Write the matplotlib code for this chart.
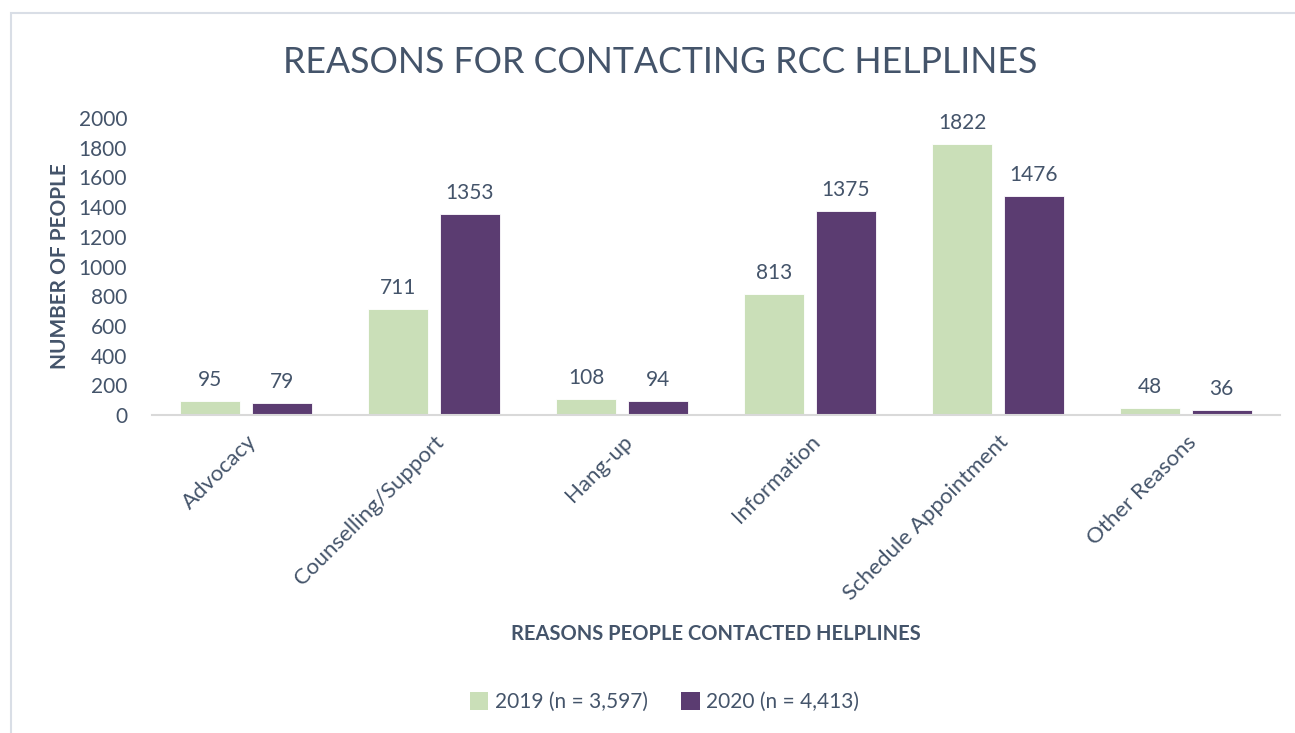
import numpy as np
import matplotlib
matplotlib.use("Agg")
import matplotlib.pyplot as plt
from matplotlib.patches import Rectangle, Patch

plt.rcParams["font.family"] = ["Lato", "DejaVu Sans"]

reasons = ["Advocacy", "Counselling/Support", "Hang-up", "Information",
           "Schedule Appointment", "Other Reasons"]
counts_2019 = [95, 711, 108, 813, 1822, 48]
counts_2020 = [79, 1353, 94, 1375, 1476, 36]
series_names = ["2019 (n = 3,597)", "2020 (n = 4,413)"]

green = "#CADFB8"
purple = "#5B3C71"
text_col = "#44546A"

fig = plt.figure(figsize=(12.95, 7.33), dpi=100)
ax = fig.add_axes([0.1174, 0.4338, 0.8710, 0.4052])

x = np.arange(len(reasons))
w = 0.32
off = 0.19
b1 = ax.bar(x - off, counts_2019, w, color=green, edgecolor="white", linewidth=0.6)
b2 = ax.bar(x + off, counts_2020, w, color=purple, edgecolor="white", linewidth=0.6)

for bars in (b1, b2):
    ax.bar_label(bars, padding=8, fontsize=15, color=text_col)

ax.set_xlim(-0.5, len(reasons) - 0.5)
ax.set_ylim(0, 2000)
ax.set_yticks(range(0, 2001, 200))
ax.set_xticks(x)
ax.set_xticklabels(reasons, rotation=45, ha="right", rotation_mode="anchor",
                   fontsize=16, color=text_col)
ax.tick_params(axis="y", length=0, labelsize=15, labelcolor=text_col, pad=18)
ax.tick_params(axis="x", length=0, pad=12)

for s in ["top", "right", "left"]:
    ax.spines[s].set_visible(False)
ax.spines["bottom"].set_color("#D9D9D9")
ax.spines["bottom"].set_linewidth(1.5)

ax.set_ylabel("NUMBER OF PEOPLE", fontsize=15, fontweight="bold",
              color=text_col, labelpad=6)
fig.text(0.553, 0.135, "REASONS PEOPLE CONTACTED HELPLINES", ha="center",
         va="center", fontsize=14.5, fontweight="bold", color=text_col)
fig.text(0.510, 0.915, "REASONS FOR CONTACTING RCC HELPLINES", ha="center",
         va="center", fontsize=25.7, color=text_col)

handles = [Patch(facecolor=green), Patch(facecolor=purple)]
fig.legend(handles, series_names, loc="center", bbox_to_anchor=(0.513, 0.042),
           ncol=2, frameon=False, fontsize=15, labelcolor=text_col,
           handlelength=0.9, handleheight=0.9, handletextpad=0.3,
           columnspacing=1.6)

# chart area outline
fig.patches.append(Rectangle((11 / 1295, -0.1), 1.2, 1 - 13 / 733 + 0.1,
                             transform=fig.transFigure, fill=False,
                             edgecolor="#D9DEE6", linewidth=1.5))

fig.savefig("out.png", dpi=100)
